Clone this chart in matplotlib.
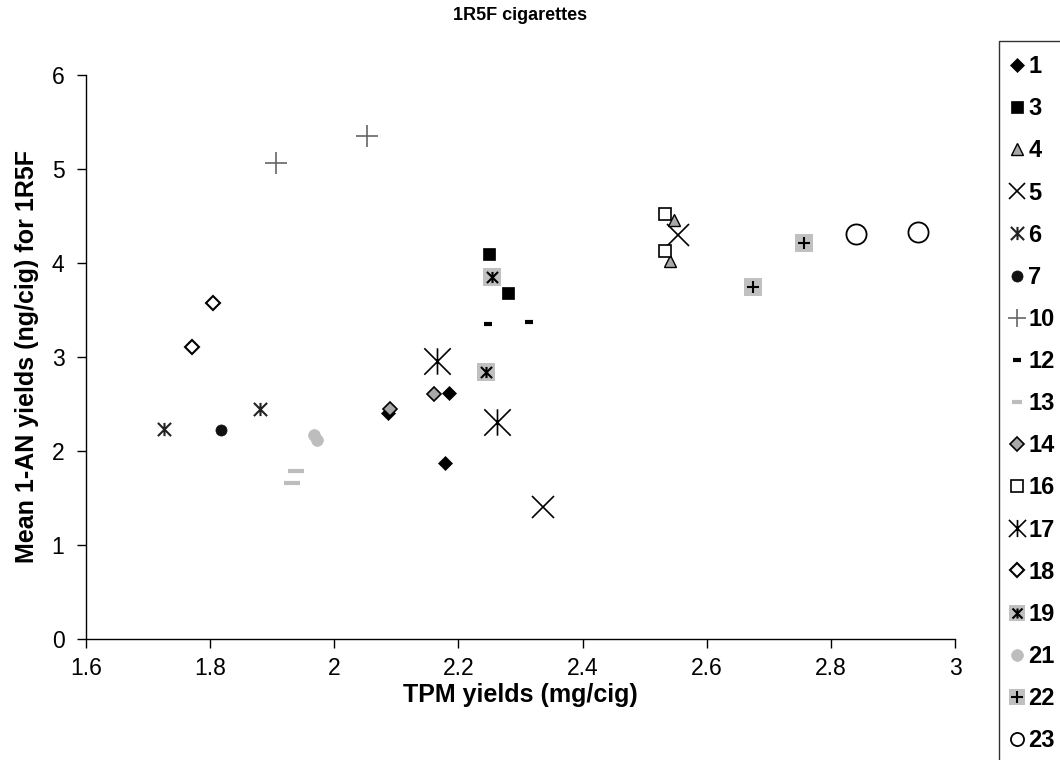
import matplotlib
matplotlib.use("Agg")
import matplotlib.pyplot as plt
from matplotlib.lines import Line2D
from matplotlib.path import Path

plt.rcParams['font.family'] = ['Liberation Sans', 'DejaVu Sans']

# cigarette code and the 1R5F replicate results for each
series_ids = ["1", "3", "4", "5", "6", "7", "10", "12", "13", "14", "16", "17", "18", "19", "21", "22", "23"]
tpm_yields = [
	[2.087, 2.185, 2.179],
	[2.249, 2.280],
	[2.548, 2.541],
	[2.553, 2.336],
	[1.725, 1.881],
	[1.817],
	[1.906, 2.053],
	[2.248, 2.313],
	[1.939, 1.932],
	[2.089, 2.160],
	[2.533, 2.533],
	[2.166, 2.262],
	[1.770, 1.805],
	[2.254, 2.245],
	[1.967, 1.972],
	[2.756, 2.675],
	[2.841, 2.941],
]
an_yields = [
	[2.40, 2.61, 1.87],
	[4.10, 3.68],
	[4.46, 4.02],
	[4.30, 1.40],
	[2.23, 2.44],
	[2.22],
	[5.06, 5.35],
	[3.35, 3.37],
	[1.79, 1.66],
	[2.45, 2.60],
	[4.52, 4.13],
	[2.96, 2.31],
	[3.11, 3.57],
	[3.85, 2.84],
	[2.17, 2.11],
	[4.21, 3.74],
	[4.31, 4.33],
]

# six armed asterisk: vertical bar plus an x
star = Path([(0, -1), (0, 1), (-1, -1), (1, 1), (-1, 1), (1, -1)],
	[Path.MOVETO, Path.LINETO, Path.MOVETO, Path.LINETO, Path.MOVETO, Path.LINETO])

GREY_BG = "#c0c0c0"

# each entry is a list of layers drawn on top of each other
styles = [
	[dict(marker="D", ms=7, mfc="black", mec="black", mew=0.5)],
	[dict(marker="s", ms=8, mfc="black", mec="black", mew=0.5)],
	[dict(marker="^", ms=9, mfc="#a8a8a8", mec="black", mew=1.0)],
	[dict(marker="x", ms=16, mec="black", mew=1.2)],
	[dict(marker=star, ms=9.5, mfc="none", mec="#222222", mew=1.5)],
	[dict(marker="o", ms=8, mfc="#111111", mec="#111111", mew=0.5)],
	[dict(marker="+", ms=16, mec="#666666", mew=1.2)],
	[dict(marker="_", ms=6, mec="black", mew=3)],
	[dict(marker="_", ms=11, mec="#bdbdbd", mew=3)],
	[dict(marker="D", ms=7, mfc="#a8a8a8", mec="black", mew=1.2)],
	[dict(marker="s", ms=8, mfc="white", mec="black", mew=1.2)],
	[dict(marker=star, ms=19, mfc="none", mec="black", mew=1.2)],
	[dict(marker="D", ms=7, mfc="white", mec="black", mew=1.5)],
	[dict(marker="s", ms=13, mfc=GREY_BG, mec=GREY_BG, mew=0),
	 dict(marker=star, ms=8, mfc="none", mec="black", mew=1.5)],
	[dict(marker="o", ms=8.5, mfc="#bdbdbd", mec="#bdbdbd", mew=0.5)],
	[dict(marker="s", ms=13, mfc=GREY_BG, mec=GREY_BG, mew=0),
	 dict(marker="+", ms=9, mec="black", mew=1.5)],
	[dict(marker="o", ms=14.5, mfc="white", mec="black", mew=1.3)],
]

# the legend shows the bigger symbols at a reduced size
legend_scale = [1, 1, 1, 0.7, 1, 1, 0.8, 1, 0.7, 1, 1, 0.65, 1, 0.9, 1, 0.9, 0.65]

fig = plt.figure(figsize=(10.6, 7.6), dpi=100)
ax = fig.add_axes([86 / 1060, 1 - 638.7 / 760, (955 - 86) / 1060, (638.7 - 75) / 760])

handles = []
for xs, ys, layers, k in zip(tpm_yields, an_yields, styles, legend_scale):
	parts = []
	for st in layers:
		ax.plot(xs, ys, linestyle="none", **st)
		lst = dict(st)
		lst["ms"] = st["ms"] * k
		parts.append(Line2D([], [], linestyle="none", **lst))
	handles.append(tuple(parts))

ax.set_xlim(1.6, 3.0)
ax.set_ylim(0, 6)
ax.set_xticks([1.6, 1.8, 2.0, 2.2, 2.4, 2.6, 2.8, 3.0])
ax.set_xticklabels(["1.6", "1.8", "2", "2.2", "2.4", "2.6", "2.8", "3"])
ax.set_yticks(range(7))
ax.tick_params(axis="both", direction="out", length=6.5, width=1, labelsize=16.5, pad=7)
ax.tick_params(axis="y", pad=9)
for side in ["top", "right"]:
	ax.spines[side].set_visible(False)
for side in ["left", "bottom"]:
	ax.spines[side].set_linewidth(1)

ax.set_xlabel("TPM yields (mg/cig)", fontsize=18, fontweight="bold")
ax.set_ylabel("Mean 1-AN yields (ng/cig) for 1R5F", fontsize=18, fontweight="bold")
ax.xaxis.set_label_coords(0.5, -0.078)
ax.yaxis.set_label_coords(-0.054, 0.5)
fig.text(520 / 1060, 1 - 15 / 760, "1R5F cigarettes", ha="center", va="center",
	fontsize=13, fontweight="bold")

leg = ax.legend(handles, series_ids, loc="upper left",
	bbox_to_anchor=(999 / 1060, 1 - 41 / 760), bbox_transform=fig.transFigure,
	borderaxespad=0, frameon=True, fancybox=False, handlelength=0.34,
	handletextpad=0.3, labelspacing=0.81, borderpad=0.6,
	prop=dict(size=17, weight="bold"))
leg.get_frame().set_edgecolor("black")
leg.get_frame().set_linewidth(1)

fig.savefig("out.png", dpi=100)
